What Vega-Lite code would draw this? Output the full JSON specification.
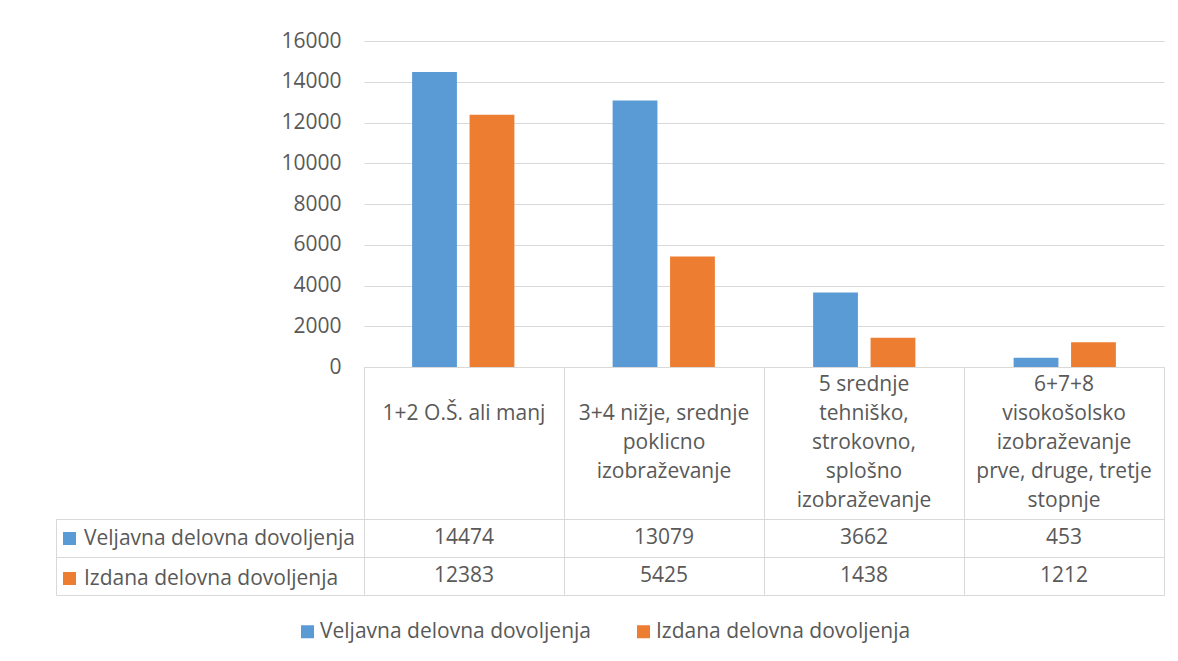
{
  "$schema": "https://vega.github.io/schema/vega-lite/v6.json",
  "background": "white",
  "padding": {"left": 55, "top": 30, "right": 15, "bottom": 10},
  "autosize": {"type": "pad"},
  "config": {
    "font": "Open Sans",
    "view": {"stroke": null},
    "axis": {"labelFont": "Open Sans", "labelFontSize": 21, "labelColor": "#595959", "gridColor": "#D9D9D9", "gridWidth": 1},
    "legend": {"labelFont": "Open Sans", "labelFontSize": 21, "labelColor": "#595959", "padding": 0, "labelLimit": 0}
  },
  "datasets": {
    "vals": [
      {"cat": "1+2 O.Š. ali manj", "series": "Veljavna delovna dovoljenja", "value": 14474},
      {"cat": "1+2 O.Š. ali manj", "series": "Izdana delovna dovoljenja", "value": 12383},
      {"cat": "3+4 nižje, srednje poklicno izobraževanje", "series": "Veljavna delovna dovoljenja", "value": 13079},
      {"cat": "3+4 nižje, srednje poklicno izobraževanje", "series": "Izdana delovna dovoljenja", "value": 5425},
      {"cat": "5 srednje tehniško, strokovno, splošno izobraževanje", "series": "Veljavna delovna dovoljenja", "value": 3662},
      {"cat": "5 srednje tehniško, strokovno, splošno izobraževanje", "series": "Izdana delovna dovoljenja", "value": 1438},
      {"cat": "6+7+8 visokošolsko izobraževanje prve, druge, tretje stopnje", "series": "Veljavna delovna dovoljenja", "value": 453},
      {"cat": "6+7+8 visokošolsko izobraževanje prve, druge, tretje stopnje", "series": "Izdana delovna dovoljenja", "value": 1212}
    ],
    "cats": [
      {"cat": "1+2 O.Š. ali manj", "label": "\n\n1+2 O.Š. ali manj\n\n"},
      {"cat": "3+4 nižje, srednje poklicno izobraževanje", "label": "\n3+4 nižje, srednje\npoklicno\nizobraževanje\n"},
      {"cat": "5 srednje tehniško, strokovno, splošno izobraževanje", "label": "5 srednje\ntehniško,\nstrokovno,\nsplošno\nizobraževanje"},
      {"cat": "6+7+8 visokošolsko izobraževanje prve, druge, tretje stopnje", "label": "6+7+8\nvisokošolsko\nizobraževanje\nprve, druge, tretje\nstopnje"}
    ]
  },
  "columns": 2,
  "spacing": 0,
  "bounds": "flush",
  "resolve": {"scale": {"color": "shared"}, "legend": {"color": "independent"}},
  "concat": [
    {
      "width": 308, "height": 326,
      "data": {"values": [{}]},
      "mark": {"type": "text"},
      "encoding": {"text": {"value": ""}}
    },
    {
      "width": 800, "height": 326,
      "data": {"name": "vals"},
      "mark": {"type": "bar"},
      "encoding": {
        "x": {"field": "cat", "type": "nominal",
          "sort": ["1+2 O.Š. ali manj", "3+4 nižje, srednje poklicno izobraževanje", "5 srednje tehniško, strokovno, splošno izobraževanje", "6+7+8 visokošolsko izobraževanje prve, druge, tretje stopnje"],
          "scale": {"type": "band", "paddingInner": 0.49, "paddingOuter": 0.24}, "axis": null},
        "xOffset": {"field": "series", "type": "nominal", "sort": ["Veljavna delovna dovoljenja", "Izdana delovna dovoljenja"], "scale": {"paddingInner": 0.22, "paddingOuter": 0}},
        "y": {"field": "value", "type": "quantitative", "scale": {"domain": [0, 16000]},
          "axis": {"values": [0, 2000, 4000, 6000, 8000, 10000, 12000, 14000, 16000], "format": "d", "title": null, "domain": false, "ticks": false, "tickSize": 0, "labelPadding": 23, "grid": true}},
        "color": {"field": "series", "type": "nominal",
          "scale": {"domain": ["Veljavna delovna dovoljenja", "Izdana delovna dovoljenja"], "range": ["#5B9BD5", "#ED7D31"]},
          "legend": {"orient": "none", "legendX": -67, "legendY": 580, "direction": "horizontal", "title": null, "symbolType": "square", "symbolSize": 169, "symbolStrokeWidth": 0, "labelOffset": 2, "columnPadding": 42}}
      }
    },
    {
      "width": 308, "height": 152,
      "data": {"values": [{}]},
      "mark": {"type": "text"},
      "encoding": {"text": {"value": ""}}
    },
    {
      "width": 800, "height": 152,
      "data": {"name": "cats"},
      "view": {"stroke": "#D9D9D9", "strokeWidth": 1},
      "mark": {"type": "text", "lineBreak": "\n", "lineHeight": 29, "fontSize": 21, "color": "#595959", "baseline": "middle", "dy": -58, "font": "Open Sans"},
      "encoding": {
        "x": {"field": "cat", "type": "nominal",
          "sort": ["1+2 O.Š. ali manj", "3+4 nižje, srednje poklicno izobraževanje", "5 srednje tehniško, strokovno, splošno izobraževanje", "6+7+8 visokošolsko izobraževanje prve, druge, tretje stopnje"],
          "scale": {"type": "band", "paddingInner": 0, "paddingOuter": 0},
          "axis": {"title": null, "labels": false, "ticks": false, "domain": false, "grid": true, "bandPosition": 0}},
        "text": {"field": "label", "type": "nominal"}
      }
    },
    {
      "width": 308, "height": 76,
      "data": {"name": "vals"},
      "view": {"stroke": "#D9D9D9", "strokeWidth": 1},
      "mark": {"type": "text"},
      "encoding": {
        "y": {"field": "series", "type": "nominal", "sort": ["Veljavna delovna dovoljenja", "Izdana delovna dovoljenja"],
          "scale": {"type": "band", "paddingInner": 0, "paddingOuter": 0},
          "axis": {"title": null, "labels": false, "ticks": false, "domain": false, "grid": true, "bandPosition": 0}},
        "text": {"value": ""},
        "color": {"field": "series", "type": "nominal",
          "legend": {"orient": "none", "legendX": 3, "legendY": 9, "direction": "vertical", "title": null, "symbolType": "square", "symbolSize": 169, "symbolStrokeWidth": 0, "labelOffset": 4, "rowPadding": 18}}
      }
    },
    {
      "width": 800, "height": 76,
      "data": {"name": "vals"},
      "view": {"stroke": "#D9D9D9", "strokeWidth": 1},
      "mark": {"type": "text", "fontSize": 21, "color": "#595959", "baseline": "middle", "font": "Open Sans"},
      "encoding": {
        "x": {"field": "cat", "type": "nominal",
          "sort": ["1+2 O.Š. ali manj", "3+4 nižje, srednje poklicno izobraževanje", "5 srednje tehniško, strokovno, splošno izobraževanje", "6+7+8 visokošolsko izobraževanje prve, druge, tretje stopnje"],
          "scale": {"type": "band", "paddingInner": 0, "paddingOuter": 0},
          "axis": {"title": null, "labels": false, "ticks": false, "domain": false, "grid": true, "bandPosition": 0}},
        "y": {"field": "series", "type": "nominal", "sort": ["Veljavna delovna dovoljenja", "Izdana delovna dovoljenja"],
          "scale": {"type": "band", "paddingInner": 0, "paddingOuter": 0},
          "axis": {"title": null, "labels": false, "ticks": false, "domain": false, "grid": true, "bandPosition": 0}},
        "text": {"field": "value", "type": "quantitative", "format": "d"}
      }
    }
  ]
}
